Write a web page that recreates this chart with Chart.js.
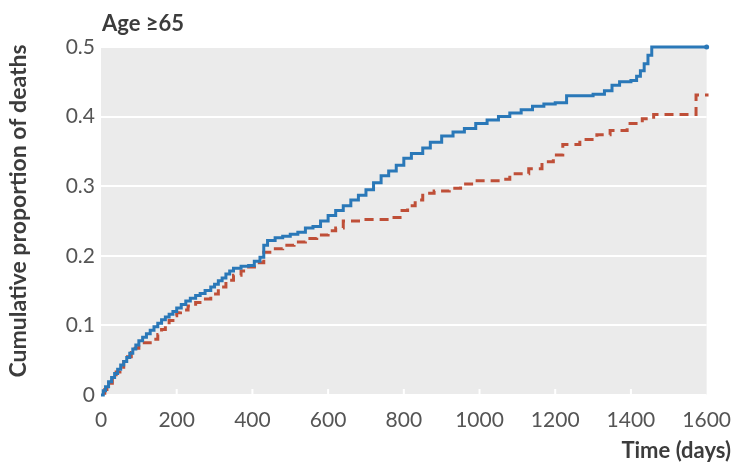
<!DOCTYPE html>
<html>
<head>
<meta charset="utf-8">
<script src="https://cdn.jsdelivr.net/npm/chart.js@4/dist/chart.umd.min.js"></script>
<style>
  body { margin: 0; background: #fff; }
  canvas { display: block; }
</style>
</head>
<body>
<canvas id="kmChart" width="736" height="462"></canvas>
<script>
// Cumulative proportion of deaths, age >= 65
const blueDays = [0, 6, 12, 20, 28, 36, 44, 52, 60, 68, 76, 84, 92, 100, 110, 120, 130, 140, 150, 160,
    170, 180, 190, 200, 212, 224, 236, 250, 262, 275, 290, 300, 310, 320, 330, 340, 350, 370, 390, 405,
    420, 430, 440, 460, 480, 500, 520, 540, 560, 580, 600, 620, 640, 660, 680, 700, 720, 740, 760, 780,
    800, 820, 850, 870, 900, 930, 960, 990, 1020, 1050, 1080, 1110, 1140, 1170, 1200, 1230, 1300, 1330, 1350, 1370,
    1400, 1415, 1425, 1435, 1445, 1455, 1600];
const blueProp = [0, 0.006, 0.012, 0.019, 0.025, 0.031, 0.037, 0.043, 0.048, 0.054, 0.06, 0.066, 0.072, 0.078, 0.083, 0.088, 0.093, 0.098, 0.103, 0.108,
    0.112, 0.116, 0.12, 0.125, 0.13, 0.135, 0.139, 0.143, 0.146, 0.15, 0.155, 0.159, 0.164, 0.168, 0.174, 0.178, 0.182, 0.185, 0.186, 0.192,
    0.198, 0.215, 0.222, 0.226, 0.228, 0.231, 0.234, 0.24, 0.242, 0.25, 0.258, 0.265, 0.272, 0.28, 0.287, 0.295, 0.305, 0.315, 0.322, 0.33,
    0.34, 0.347, 0.355, 0.363, 0.372, 0.378, 0.383, 0.39, 0.395, 0.4, 0.405, 0.41, 0.415, 0.418, 0.42, 0.43, 0.432, 0.437, 0.445, 0.45,
    0.452, 0.458, 0.466, 0.476, 0.488, 0.5, 0.5];

const redDays = [0, 10, 20, 30, 40, 50, 60, 70, 80, 90, 100, 110, 130, 150, 160, 170, 180, 190, 200, 210,
    230, 250, 270, 290, 310, 330, 350, 370, 390, 410, 430, 450, 480, 510, 540, 570, 600, 620, 640, 700,
    760, 790, 810, 830, 850, 880, 920, 950, 985, 1060, 1080, 1130, 1165, 1195, 1220, 1265, 1310, 1345, 1390, 1430,
    1460, 1572, 1605];
const redProp = [0, 0.008, 0.017, 0.025, 0.033, 0.04, 0.048, 0.055, 0.061, 0.067, 0.071, 0.075, 0.08, 0.087, 0.094, 0.1, 0.107, 0.114, 0.118, 0.122,
    0.128, 0.133, 0.138, 0.145, 0.155, 0.165, 0.172, 0.178, 0.184, 0.19, 0.205, 0.21, 0.215, 0.22, 0.225, 0.23, 0.236, 0.24, 0.25, 0.252,
    0.255, 0.265, 0.272, 0.28, 0.29, 0.293, 0.297, 0.303, 0.308, 0.31, 0.318, 0.325, 0.335, 0.345, 0.36, 0.367, 0.374, 0.38, 0.39, 0.397,
    0.403, 0.431, 0.431];

const xTicks = [0, 200, 400, 600, 800, 1000, 1200, 1400, 1600];
const yTicks = [0, 0.1, 0.2, 0.3, 0.4, 0.5];

const panelTitle = 'Age ≥65';
const xTitle = 'Time (days)';
const yTitle = 'Cumulative proportion of deaths';

function toPoints(xs, ys) {
    return xs.map((x, i) => ({ x: x, y: ys[i] }));
}

// grey plot panel, inner tick marks and the text labels
const panelPlugin = {
    id: 'panel',
    beforeDraw(chart) {
        const { ctx, chartArea: a } = chart;
        ctx.save();
        ctx.fillStyle = '#ebebeb';
        ctx.fillRect(a.left, a.top, a.right - a.left, a.bottom - a.top);
        ctx.restore();
    },
    beforeDatasetsDraw(chart) {
        const { ctx, chartArea: a, scales } = chart;
        ctx.save();
        ctx.strokeStyle = '#ffffff';
        ctx.lineWidth = 2;
        xTicks.slice(1, -1).forEach(v => {
            const px = scales.x.getPixelForValue(v);
            ctx.beginPath();
            ctx.moveTo(px, a.bottom);
            ctx.lineTo(px, a.bottom - 6);
            ctx.stroke();
        });
        ctx.restore();
    },
    afterDraw(chart) {
        const { ctx, chartArea: a } = chart;
        ctx.save();
        ctx.fillStyle = '#3c3c3c';
        ctx.font = 'bold 22px Lato, "Noto Sans", sans-serif';
        ctx.textBaseline = 'middle';
        ctx.textAlign = 'left';
        ctx.fillText(panelTitle, a.left + 1, 24);
        ctx.textAlign = 'right';
        ctx.fillText(xTitle, 731, 451);
        ctx.translate(19, 211);
        ctx.rotate(-Math.PI / 2);
        ctx.textAlign = 'center';
        ctx.font = 'bold 23px Lato, "Noto Sans", sans-serif';
        ctx.fillText(yTitle, 0, 0);
        ctx.restore();
    }
};

const tickFont = { family: 'Lato, "Noto Sans", sans-serif', size: 21 };

new Chart(document.getElementById('kmChart'), {
    type: 'line',
    data: {
        datasets: [{
            label: 'Group A',
            data: toPoints(blueDays, blueProp),
            borderColor: '#2a78b8',
            backgroundColor: '#2a78b8',
            borderWidth: 3,
            stepped: 'before',
            pointRadius: ctx => (ctx.dataIndex === blueDays.length - 1 ? 2.5 : 0),
            pointBorderWidth: 0,
            fill: false,
            clip: 4
        }, {
            label: 'Group B',
            data: toPoints(redDays, redProp),
            borderColor: '#bf4f38',
            borderWidth: 3,
            borderDash: [9, 6],
            borderDashOffset: 11,
            stepped: 'before',
            pointRadius: 0,
            fill: false,
            clip: 4
        }]
    },
    options: {
        responsive: false,
        animation: false,
        layout: { padding: { top: 47, right: 29, left: 0, bottom: 0 } },
        plugins: {
            legend: { display: false },
            tooltip: { enabled: false }
        },
        scales: {
            x: {
                type: 'linear',
                min: 0,
                max: 1600,
                afterFit: scale => { scale.height = 67; },
                afterBuildTicks: scale => { scale.ticks = xTicks.map(v => ({ value: v })); },
                grid: { display: false },
                border: { display: false },
                ticks: {
                    color: '#555',
                    font: tickFont,
                    padding: 5,
                    maxRotation: 0,
                    callback: v => String(v)
                }
            },
            y: {
                min: 0,
                max: 0.5,
                afterFit: scale => { scale.width = 101; },
                afterBuildTicks: scale => { scale.ticks = yTicks.map(v => ({ value: v })); },
                grid: { color: '#ffffff', lineWidth: 2, drawTicks: false },
                border: { display: false },
                ticks: {
                    color: '#555',
                    font: tickFont,
                    padding: 6,
                    callback: v => (v === 0 ? '0' : v.toFixed(1))
                }
            }
        }
    },
    plugins: [panelPlugin]
});
</script>
</body>
</html>
